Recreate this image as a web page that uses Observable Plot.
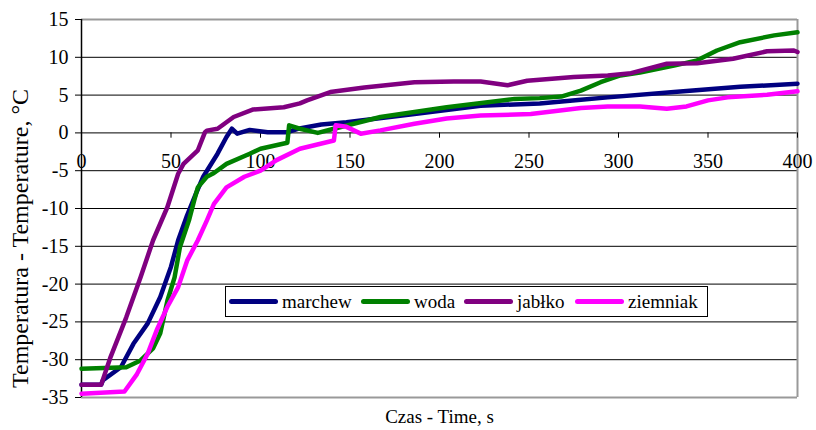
<!DOCTYPE html>
<html>
<head>
<meta charset="utf-8">
<script src="https://cdn.jsdelivr.net/npm/d3@7"></script>
<script src="https://cdn.jsdelivr.net/npm/@observablehq/plot@0.6"></script>
<style>
  body { margin: 0; background: #fff; }
  #wrap { position: relative; width: 816px; height: 430px; font-family: 'Liberation Serif'; }
  #legend { position: absolute; left: 225px; top: 286px; width: 483px; height: 31px; border: 1px solid #000; background: #fff; box-sizing: border-box; font-family: 'Liberation Serif'; }
  .item { position: absolute; top: 0; height: 29px; display: flex; align-items: center; font-size: 19px; color: #000; font-family: 'Liberation Serif'; }
  .sw { display: inline-block; width: 49px; height: 5px; border-radius: 3px; margin-right: 4px; }
</style>
</head>
<body>
<div id="wrap"></div>
<script>
const seriesNames = ["marchew", "woda", "jabłko", "ziemniak"];
const seriesColors = ["#000080", "#008000", "#800080", "#FF00FF"];

const marchewTime = [0, 11, 12, 22, 29, 37, 44, 50, 54, 59, 64, 68, 76, 81, 84, 87, 94, 104, 115, 121, 134, 148, 186, 223, 256, 279, 294, 331, 368, 400];
const marchewTemp = [-33.3, -33.3, -32.7, -31.0, -27.9, -25.2, -21.7, -17.7, -14.2, -10.9, -8.0, -5.8, -2.75, -0.55, 0.55, -0.1, 0.4, 0.1, 0.1, 0.55, 1.1, 1.4, 2.5, 3.6, 3.9, 4.4, 4.7, 5.4, 6.1, 6.5];

const wodaTime = [0, 25, 33, 40, 44, 48, 52, 55, 60, 63, 65, 70, 74, 81, 94, 100, 115, 116, 122, 132, 141, 167, 204, 242, 256, 268, 279, 290, 301, 312, 331, 344, 355, 368, 387, 400];
const wodaTemp = [-31.2, -31.0, -30.1, -28.5, -26.5, -22.2, -19.1, -15.1, -11.6, -8.9, -7.2, -5.8, -5.3, -4.1, -2.75, -2.1, -1.3, 1.0, 0.55, 0.0, 0.55, 2.1, 3.4, 4.5, 4.6, 4.8, 5.6, 6.7, 7.6, 8.0, 8.9, 9.6, 10.9, 12.0, 12.9, 13.3];

const jablkoTime = [0, 11, 16, 25, 33, 40, 48, 54, 57, 65, 69, 70, 76, 85, 96, 113, 122, 126, 139, 158, 186, 208, 223, 238, 249, 275, 294, 307, 327, 344, 364, 383, 398, 400];
const jablkoTemp = [-33.3, -33.3, -29.8, -24.4, -19.1, -14.2, -9.8, -5.4, -4.1, -2.3, 0.1, 0.3, 0.55, 2.1, 3.1, 3.4, 3.9, 4.3, 5.4, 6.0, 6.7, 6.8, 6.8, 6.3, 6.9, 7.4, 7.6, 7.9, 9.15, 9.2, 9.8, 10.8, 10.9, 10.7];

const ziemniakTime = [0, 24, 31, 37, 42, 48, 54, 59, 65, 70, 74, 81, 91, 100, 109, 122, 141, 142, 148, 156, 167, 186, 204, 223, 251, 279, 294, 312, 327, 338, 350, 361, 383, 400];
const ziemniakTemp = [-34.5, -34.2, -31.9, -29.2, -26.1, -23.0, -20.4, -16.9, -14.2, -11.6, -9.4, -7.2, -5.8, -5.0, -3.6, -2.1, -1.0, 1.0, 0.8, -0.1, 0.33, 1.2, 1.9, 2.3, 2.5, 3.3, 3.5, 3.5, 3.2, 3.5, 4.3, 4.7, 5.05, 5.5];

const xTicks = [0, 50, 100, 150, 200, 250, 300, 350, 400];
const yTicks = [-35, -30, -25, -20, -15, -10, -5, 0, 5, 10, 15];
const xTitle = "Czas - Time, s";
const yTitle = "Temperatura - Temperature, °C";

const FONT = "Liberation Serif";

const times = [marchewTime, wodaTime, jablkoTime, ziemniakTime];
const temps = [marchewTemp, wodaTemp, jablkoTemp, ziemniakTemp];
const rows = [];
seriesNames.forEach((name, i) => {
  times[i].forEach((t, j) => rows.push({series: name, time: t, temp: temps[i][j]}));
});

const chart = Plot.plot({
  width: 816,
  height: 430,
  marginLeft: 81,
  marginRight: 19,
  marginTop: 19,
  marginBottom: 33,
  style: {fontFamily: FONT, fontSize: "20px", background: "white", color: "#000", overflow: "visible"},
  x: {domain: [0, 400], axis: null},
  y: {domain: [-35, 15], axis: null},
  color: {domain: seriesNames, range: seriesColors},
  marks: [
    Plot.ruleY(yTicks.filter(d => d > -35 && d < 15), {stroke: "#000", strokeWidth: 1}),
    Plot.ruleY([15, -35], {stroke: "#999", strokeWidth: 2}),
    Plot.ruleX([400], {stroke: "#999", strokeWidth: 2}),
    Plot.axisY({ticks: yTicks, tickSize: 6, tickPadding: 7, tickFormat: d => String(d), label: null, fontSize: 20, fontFamily: FONT}),
    Plot.ruleX([0], {stroke: "#000", strokeWidth: 1.5}),
    Plot.ruleX(xTicks.slice(1), {y1: 0, y2: -0.7, stroke: "#000"}),
    Plot.text(xTicks, {x: d => d, y: 0, dy: 29, text: d => String(d), fontSize: 20, fontFamily: FONT}),
    Plot.text([xTitle], {frameAnchor: "bottom", dy: 25, text: d => d, fontSize: 19, fontFamily: FONT}),
    Plot.text([yTitle], {frameAnchor: "left", textAnchor: "middle", dx: -61, dy: 30, rotate: -90, text: d => d, fontSize: 24, fontFamily: FONT}),
    Plot.line(rows, {x: "time", y: "temp", z: "series", stroke: "series", strokeWidth: 4.5, strokeLinejoin: "round"})
  ]
});
const wrap = document.getElementById("wrap");
wrap.appendChild(chart);

const legend = document.createElement("div");
legend.id = "legend";
const offsets = [3, 135, 238, 349];
seriesNames.forEach((name, i) => {
  const it = document.createElement("div");
  it.className = "item";
  it.style.left = offsets[i] + "px";
  const sw = document.createElement("span");
  sw.className = "sw";
  sw.style.background = seriesColors[i];
  it.appendChild(sw);
  it.appendChild(document.createTextNode(name));
  legend.appendChild(it);
});
wrap.appendChild(legend);
</script>
</body>
</html>
